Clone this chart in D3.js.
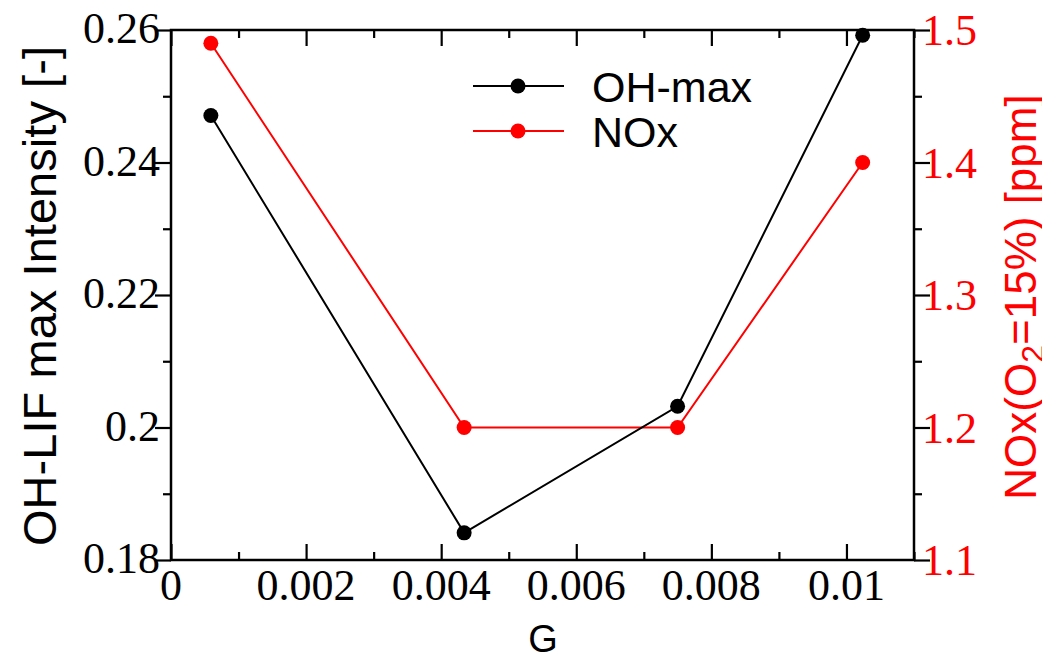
<!DOCTYPE html>
<html>
<head>
<meta charset="utf-8">
<script src="https://cdn.jsdelivr.net/npm/d3@7"></script>
<style>
  body { margin: 0; background: #fff; }
  svg { display: block; }
</style>
</head>
<body>
<div id="chart"></div>
<script>
// data
var gValues = [0.00059, 0.00434, 0.0075, 0.01024];
var ohMax = [0.2471, 0.1841, 0.2032, 0.2592];
var nox = [1.49, 1.2, 1.2, 1.4];
var xTicks = [0, 0.002, 0.004, 0.006, 0.008, 0.01];
var xTickLabels = ["0", "0.002", "0.004", "0.006", "0.008", "0.01"];
var yLeftTicks = [0.18, 0.2, 0.22, 0.24, 0.26];
var yLeftLabels = ["0.18", "0.2", "0.22", "0.24", "0.26"];
var yRightTicks = [1.1, 1.2, 1.3, 1.4, 1.5];
var yRightLabels = ["1.1", "1.2", "1.3", "1.4", "1.5"];
var seriesNames = ["OH-max", "NOx"];

var W = 1042, H = 656;
var plotL = 171, plotR = 914, plotT = 30, plotB = 560;

var svg = d3.select("#chart").append("svg")
  .attr("width", W)
  .attr("height", H);

var x = d3.scaleLinear().domain([0, 0.011]).range([plotL, plotR]);
var yL = d3.scaleLinear().domain([0.18, 0.26]).range([plotB, plotT]);
var yR = d3.scaleLinear().domain([1.1, 1.5]).range([plotB, plotT]);

var serif = "'Liberation Serif', 'Times New Roman', serif";
var sans = "'Liberation Sans', Arial, sans-serif";

// minor + major ticks, drawn inward with d3 axes
function tickAxis(axisFn, scale, major, minor, transform) {
  var g1 = svg.append("g").attr("transform", transform)
    .call(axisFn(scale).tickValues(minor).tickSize(-8).tickFormat(""));
  g1.selectAll(".domain").remove();
  var g2 = svg.append("g").attr("transform", transform)
    .call(axisFn(scale).tickValues(major).tickSize(-16).tickFormat(""));
  g2.selectAll(".domain").remove();
  svg.selectAll(".tick line").attr("stroke", "#000").attr("stroke-width", 2.2);
}

var xMinor = [0.001, 0.003, 0.005, 0.007, 0.009, 0.011];
var yLMinor = [0.19, 0.21, 0.23, 0.25];
var yRMinor = [1.15, 1.25, 1.35, 1.45];

tickAxis(d3.axisBottom, x, xTicks, xMinor, "translate(0," + plotB + ")");
tickAxis(d3.axisTop, x, xTicks, xMinor, "translate(0," + plotT + ")");
tickAxis(d3.axisRight, yL, yLeftTicks, yLMinor, "translate(" + plotL + ",0)");
tickAxis(d3.axisLeft, yR, yRightTicks, yRMinor, "translate(" + plotR + ",0)");

// frame
svg.append("rect")
  .attr("x", plotL).attr("y", plotT)
  .attr("width", plotR - plotL).attr("height", plotB - plotT)
  .attr("fill", "none").attr("stroke", "#000").attr("stroke-width", 2.5);

// tick labels
svg.append("g").selectAll("text").data(xTicks).join("text")
  .attr("x", function(d){ return x(d); })
  .attr("y", 600)
  .attr("text-anchor", "middle")
  .attr("font-family", serif).attr("font-size", 44)
  .text(function(d, i){ return xTickLabels[i]; });

svg.append("g").selectAll("text").data(yLeftTicks).join("text")
  .attr("x", 160)
  .attr("y", function(d){ return yL(d) + 13; })
  .attr("text-anchor", "end")
  .attr("font-family", serif).attr("font-size", 44)
  .text(function(d, i){ return yLeftLabels[i]; });

svg.append("g").selectAll("text").data(yRightTicks).join("text")
  .attr("x", 922)
  .attr("y", function(d){ return yR(d) + 15; })
  .attr("text-anchor", "start")
  .attr("fill", "#ff0000")
  .attr("font-family", serif).attr("font-size", 44)
  .text(function(d, i){ return yRightLabels[i]; });

// axis titles
svg.append("text")
  .attr("x", 543).attr("y", 652)
  .attr("text-anchor", "middle")
  .attr("font-family", sans).attr("font-size", 38)
  .text("G");

svg.append("text")
  .attr("transform", "translate(56," + 296 + ") rotate(-90)")
  .attr("text-anchor", "middle")
  .attr("font-family", sans).attr("font-size", 47)
  .attr("textLength", 500).attr("lengthAdjust", "spacing")
  .text("OH-LIF max Intensity [-]");

var rt = svg.append("text")
  .attr("transform", "translate(1036," + 297 + ") rotate(-90)")
  .attr("text-anchor", "middle")
  .attr("fill", "#ff0000")
  .attr("font-family", sans).attr("font-size", 44);
rt.append("tspan").text("NOx(O");
rt.append("tspan").attr("font-size", 32).attr("dy", 8).text("2");
rt.append("tspan").attr("dy", -8).text("=15%) [ppm]");

// series
var line = d3.line();
var ohPts = gValues.map(function(g, i){ return [x(g), yL(ohMax[i])]; });
var noxPts = gValues.map(function(g, i){ return [x(g), yR(nox[i])]; });

svg.append("path").attr("d", line(noxPts))
  .attr("fill", "none").attr("stroke", "#ff0000").attr("stroke-width", 2);
svg.append("path").attr("d", line(ohPts))
  .attr("fill", "none").attr("stroke", "#000").attr("stroke-width", 2);

svg.append("g").selectAll("circle").data(noxPts).join("circle")
  .attr("cx", function(d){ return d[0]; }).attr("cy", function(d){ return d[1]; })
  .attr("r", 7.5).attr("fill", "#ff0000");
svg.append("g").selectAll("circle").data(ohPts).join("circle")
  .attr("cx", function(d){ return d[0]; }).attr("cy", function(d){ return d[1]; })
  .attr("r", 7.5).attr("fill", "#000");

// legend
var legendColors = ["#000", "#ff0000"];
var lg = svg.append("g").selectAll("g").data(seriesNames).join("g")
  .attr("transform", function(d, i){ return "translate(0," + (86 + i * 45) + ")"; });
lg.append("line")
  .attr("x1", 473).attr("x2", 564)
  .attr("stroke", function(d, i){ return legendColors[i]; })
  .attr("stroke-width", 2);
lg.append("circle")
  .attr("cx", 518).attr("r", 7.5)
  .attr("fill", function(d, i){ return legendColors[i]; });
lg.append("text")
  .attr("x", 592).attr("y", 16)
  .attr("font-family", sans).attr("font-size", 43)
  .text(function(d){ return d; });
</script>
</body>
</html>
